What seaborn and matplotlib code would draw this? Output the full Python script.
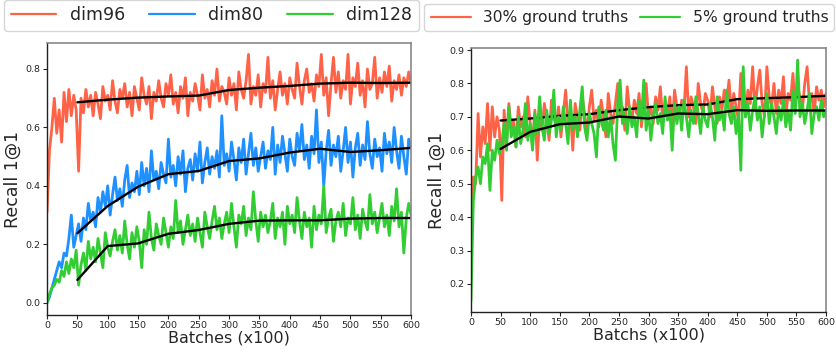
# Recall 1@1 training curves: embedding size (left) and ground-truth ratio (right)

import numpy as np
import pandas as pd
import matplotlib
matplotlib.use("Agg")
import matplotlib.pyplot as plt
import seaborn as sns

# x positions of the raw curves (every 4th batch, x100) and of the smoothed points
batches = np.arange(0, 601, 4)
smooth_batches = np.arange(50, 601, 50)

# raw recall values, in percent
dim96 = [
    31, 52, 60, 70, 58, 66, 55, 72, 62, 73,
    64, 71, 66, 45, 70, 65, 73, 67, 71, 64,
    72, 68, 63, 74, 69, 71, 66, 76, 69, 65,
    73, 70, 75, 67, 72, 64, 74, 70, 66, 77,
    71, 68, 74, 63, 72, 69, 76, 70, 67, 75,
    71, 78, 68, 72, 65, 74, 70, 77, 64, 72,
    69, 75, 71, 66, 78, 70, 73, 67, 76, 71,
    80, 69, 74, 72, 68, 77, 71, 75, 66, 79,
    73, 70, 76, 85, 68, 74, 71, 78, 67, 75,
    72, 84, 70, 76, 66, 73, 79, 71, 75, 68,
    77, 73, 70, 82, 74, 68, 76, 80, 72, 75,
    69, 78, 74, 85, 71, 77, 64, 75, 84, 72,
    79, 70, 76, 73, 85, 68, 77, 74, 82, 71,
    76, 67, 80, 73, 75, 84, 70, 77, 72, 79,
    74, 81, 69, 76, 73, 78, 71, 77, 74, 79,
    75,
]
dim80 = [
    0, 2, 5, 8, 11, 14, 12, 17, 16, 22,
    30, 19, 23, 27, 21, 29, 25, 34, 28, 31,
    26, 36, 31, 38, 33, 40, 30, 37, 43, 35,
    39, 33, 42, 47, 36, 41, 38, 45, 37, 48,
    40, 46, 38, 52, 42, 45, 39, 48, 44, 41,
    56, 43, 47, 40, 50, 44, 52, 38, 46, 49,
    42, 51, 45, 55, 41, 48, 53, 44, 50, 46,
    52, 43, 64, 47, 51, 45, 55, 49, 42, 53,
    48, 56, 44, 51, 58, 47, 53, 45, 50, 55,
    46, 52, 49, 60, 44, 54, 48, 57, 51, 45,
    56, 50, 47, 58, 52, 61, 49, 54, 46, 57,
    51, 66, 48, 55, 40, 52, 59, 47, 54, 50,
    57, 45, 52, 60, 48, 55, 43, 53, 58, 47,
    54, 49, 62, 51, 46, 56, 50, 53, 45, 58,
    51, 55, 48, 60, 52, 46, 57, 50, 44, 56,
    53,
]
dim128 = [
    0, 3, 5, 6, 8, 7, 11, 9, 14, 10,
    15, 12, 18, 6, 13, 17, 11, 21, 15, 19,
    14, 22, 17, 12, 24, 19, 16, 21, 25, 18,
    23, 17, 28, 20, 15, 24, 19, 26, 21, 12,
    25, 20, 31, 22, 18, 27, 23, 20, 29, 24,
    19, 26, 22, 35, 24, 28, 20, 25, 30, 23,
    27, 21, 29, 24, 19, 31, 26, 22, 28, 33,
    25, 29, 22, 27, 31, 24, 34, 26, 19, 30,
    27, 33, 23, 29, 25, 38, 28, 21, 31, 26,
    30, 24, 28, 34, 22, 29, 26, 31, 20, 33,
    27, 30, 24, 36, 28, 22, 31, 26, 29, 19,
    33, 25, 30, 27, 40, 24, 29, 32, 21, 28,
    31, 26, 34, 23, 29, 27, 36, 25, 30, 22,
    32, 28, 25, 37, 27, 31, 24, 29, 34, 26,
    30, 23, 33, 28, 39, 26, 31, 17, 29, 34,
    30,
]
gt30 = [
    42, 52, 50, 71, 58, 67, 62, 74, 60, 73,
    64, 70, 66, 45, 72, 62, 74, 66, 69, 61,
    73, 67, 70, 64, 76, 68, 62, 72, 57, 70,
    66, 74, 69, 63, 75, 70, 67, 73, 64, 71,
    78, 68, 72, 60, 74, 70, 66, 76, 71, 65,
    73, 78, 69, 72, 67, 75, 70, 64, 77, 71,
    68, 74, 80, 70, 73, 66, 79, 72, 69, 75,
    71, 77, 67, 74, 80, 70, 73, 68, 76, 72,
    79, 69, 74, 71, 76, 67, 78, 73, 70, 75,
    72, 85, 70, 76, 73, 68, 80, 74, 71, 77,
    75, 70, 79, 73, 68, 76, 72, 78, 74, 81,
    71, 77, 73, 69, 83, 75, 70, 78, 74, 85,
    72, 79, 84, 74, 70, 85, 76, 73, 80, 71,
    78, 74, 82, 70, 77, 75, 83, 73, 79, 76,
    72, 80, 85, 74, 77, 71, 79, 75, 78, 73,
    77,
]
gt5 = [
    15, 45, 52, 55, 50, 58, 56, 62, 48, 60,
    57, 63, 59, 62, 68, 60, 73, 64, 67, 61,
    70, 62, 66, 74, 63, 68, 60, 71, 65, 76,
    67, 63, 72, 65, 69, 78, 64, 70, 66, 73,
    68, 62, 75, 66, 70, 64, 72, 79, 67, 63,
    71, 68, 65, 58, 73, 69, 66, 72, 64, 70,
    62, 57, 74, 81, 68, 71, 65, 73, 67, 70,
    64, 75, 69, 81, 66, 72, 63, 70, 74, 68,
    71, 65, 76, 69, 72, 60, 74, 68, 73, 66,
    75, 70, 64, 72, 68, 76, 71, 65, 73, 69,
    67, 74, 70, 63, 76, 69, 72, 66, 78, 71,
    68, 73, 65, 71, 54, 85, 70, 74, 66, 72,
    76, 69, 73, 64, 71, 77, 68, 74, 70, 65,
    73, 69, 75, 67, 72, 66, 78, 71, 87, 70,
    74, 68, 72, 77, 65, 71, 73, 69, 75, 70,
    72,
]

# smoothed (black) curves, every 50 batches
dim96_smooth = [0.686, 0.695, 0.702, 0.706, 0.709, 0.728, 0.736, 0.742, 0.750, 0.753, 0.752, 0.753]
dim80_smooth = [0.238, 0.331, 0.397, 0.440, 0.451, 0.485, 0.494, 0.514, 0.527, 0.516, 0.522, 0.530]
dim128_smooth = [0.078, 0.194, 0.203, 0.236, 0.249, 0.270, 0.281, 0.282, 0.282, 0.288, 0.290, 0.290]
gt30_smooth = [0.689, 0.695, 0.703, 0.708, 0.720, 0.729, 0.735, 0.737, 0.753, 0.756, 0.759, 0.763]
gt5_smooth = [0.604, 0.655, 0.678, 0.683, 0.701, 0.695, 0.710, 0.708, 0.720, 0.718, 0.719, 0.719]

left_labels = ["dim96", "dim80", "dim128"]
right_labels = ["30% ground truths", "5% ground truths"]
colors = {"red": "#ff6347", "blue": "#1e90ff", "green": "#32cd32"}

sns.set_style("white")
plt.rcParams["font.family"] = ["DejaVu Sans"]

fig = plt.figure(figsize=(8.37, 3.57), dpi=100)
ax1 = fig.add_axes([0.0562, 0.1176, 0.4350, 0.7620])
ax2 = fig.add_axes([0.5627, 0.1260, 0.4242, 0.7395])


def draw(ax, raw, smooth, color):
    df = pd.DataFrame({"x": batches, "y": np.array(raw) / 100})
    sm = pd.DataFrame({"x": smooth_batches, "y": smooth})
    sns.lineplot(data=df, x="x", y="y", ax=ax, color=color, lw=2.0, estimator=None)
    sns.lineplot(data=sm, x="x", y="y", ax=ax, color="black", lw=1.7, estimator=None)


draw(ax1, dim96, dim96_smooth, colors["red"])
draw(ax1, dim80, dim80_smooth, colors["blue"])
draw(ax1, dim128, dim128_smooth, colors["green"])
draw(ax2, gt30, gt30_smooth, colors["red"])
draw(ax2, gt5, gt5_smooth, colors["green"])

ax1.set_ylim(-0.042, 0.889)
ax1.set_yticks([0.0, 0.2, 0.4, 0.6, 0.8])
ax2.set_ylim(0.116, 0.906)
ax2.set_yticks([0.2, 0.3, 0.4, 0.5, 0.6, 0.7, 0.8, 0.9])

for ax, xlabel in [(ax1, "Batches (x100)"), (ax2, "Batchs (x100)")]:
    ax.set_xlim(0, 600)
    ax.set_xticks(np.arange(0, 601, 50))
    ax.set_xlabel(xlabel, fontsize=11.5, labelpad=0)
    ax.set_ylabel("Recall 1@1", fontsize=12.5, labelpad=3)
    ax.tick_params(axis="both", labelsize=6.8, length=3, width=0.8, pad=1.5,
                   bottom=True, left=True, direction="out")
    for side in ["left", "bottom"]:
        ax.spines[side].set_color("#222222")
        ax.spines[side].set_linewidth(1.0)
    for side in ["top", "right"]:
        ax.spines[side].set_color("#888888")
        ax.spines[side].set_linewidth(1.2)

left_handles = [plt.Line2D([], [], color=colors[c], lw=1.6) for c in ["red", "blue", "green"]]
fig.legend(left_handles, left_labels, loc="lower left", ncol=3, mode="expand",
           bbox_to_anchor=(0.005, 0.912, 0.496, 0.085), fontsize=12.5,
           borderaxespad=0, handlelength=2.6, frameon=True, edgecolor="#cccccc")

right_handles = [plt.Line2D([], [], color=colors[c], lw=1.6) for c in ["red", "green"]]
fig.legend(right_handles, right_labels, loc="lower left", ncol=2, mode="expand",
           bbox_to_anchor=(0.507, 0.912, 0.490, 0.082), fontsize=11.2,
           borderaxespad=0, handlelength=2.6, frameon=True, edgecolor="#cccccc")

fig.savefig("out.png", dpi=100)
